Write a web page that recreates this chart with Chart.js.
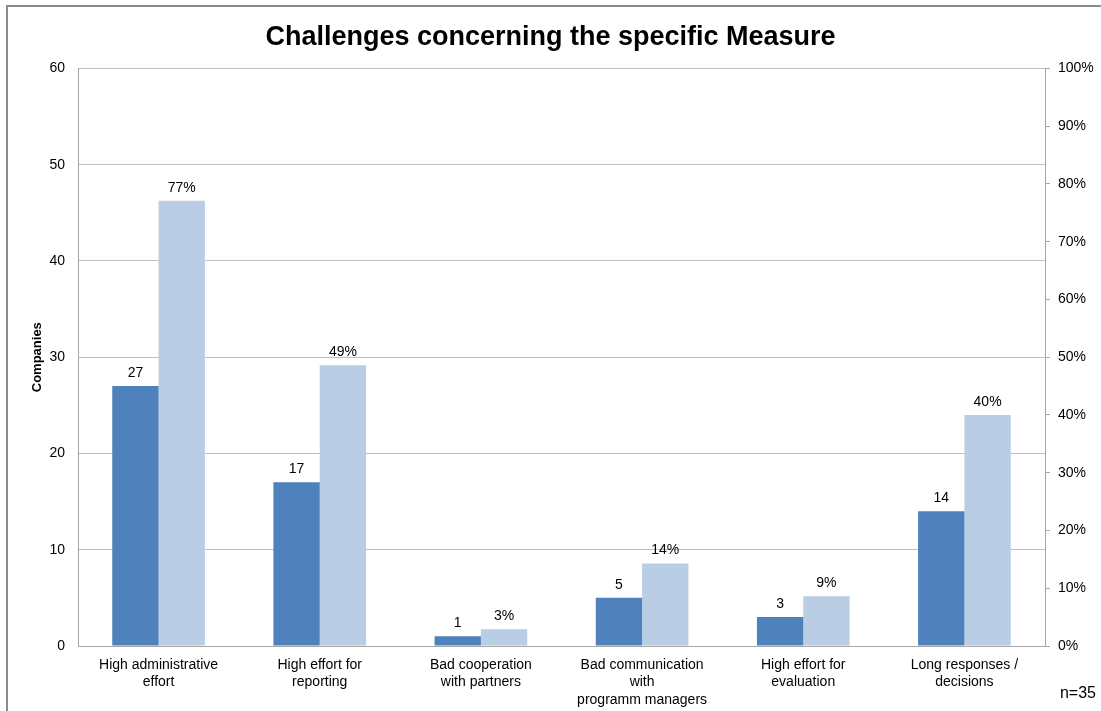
<!DOCTYPE html>
<html>
<head>
<meta charset="utf-8">
<script src="https://cdn.jsdelivr.net/npm/chart.js@4"></script>
<style>
  body { margin: 0; background: #fff; }
  #wrap { position: relative; width: 1101px; height: 711px; }
  #frame { position: absolute; left: 6px; top: 5px; width: 1200px; height: 800px; border-left: 2px solid #8c8c8c; border-top: 2px solid #8c8c8c; }
  canvas { position: absolute; left: 0; top: 0; }
</style>
</head>
<body>
<div id="wrap">
  <div id="frame"></div>
  <canvas id="chart" width="1101" height="711"></canvas>
</div>
<script>
// values
const categories = [
  ['High administrative', 'effort'],
  ['High effort for', 'reporting'],
  ['Bad cooperation', 'with partners'],
  ['Bad communication', 'with', 'programm managers'],
  ['High effort for', 'evaluation'],
  ['Long responses /', 'decisions']
];
const companies = [27, 17, 1, 5, 3, 14];
const percentages = [77.1, 48.6, 2.9, 14.3, 8.6, 40.0];
const leftTicks = [0, 10, 20, 30, 40, 50, 60];
const rightTicks = [0, 10, 20, 30, 40, 50, 60, 70, 80, 90, 100];

const FONT = 'Liberation Sans, Arial, sans-serif';

const barLabels = {
  id: 'barLabels',
  afterDatasetsDraw(chart) {
    const ctx = chart.ctx;
    ctx.save();
    ctx.font = '14px ' + FONT;
    ctx.fillStyle = '#000';
    ctx.textAlign = 'center';
    ctx.textBaseline = 'alphabetic';
    chart.data.datasets.forEach((ds, i) => {
      chart.getDatasetMeta(i).data.forEach((bar, j) => {
        const v = ds.data[j];
        const txt = i === 0 ? String(v) : Math.round(v) + '%';
        ctx.fillText(txt, bar.x, bar.y - 9);
      });
    });
    ctx.font = '16px ' + FONT;
    ctx.textAlign = 'right';
    ctx.fillText('n=35', 1096, 698);
    ctx.restore();
  }
};

new Chart(document.getElementById('chart').getContext('2d'), {
  type: 'bar',
  data: {
    labels: categories,
    datasets: [
      { label: 'Companies', data: companies, backgroundColor: '#4f81bd', yAxisID: 'y' },
      { label: 'Percent', data: percentages, backgroundColor: '#b9cde5', yAxisID: 'y1' }
    ]
  },
  options: {
    responsive: false,
    animation: false,
    barPercentage: 1,
    categoryPercentage: 0.575,
    layout: { padding: { left: 0, right: 0, top: 0, bottom: 0 } },
    plugins: {
      legend: { display: false },
      tooltip: { enabled: false },
      title: {
        display: true,
        text: 'Challenges concerning the specific Measure',
        color: '#000',
        font: { family: FONT, size: 27, weight: 'bold' },
        padding: { top: 21, bottom: 15 }
      }
    },
    scales: {
      x: {
        grid: { display: false, drawTicks: false },
        border: { color: '#a6a6a6', width: 1 },
        ticks: { color: '#000', font: { family: FONT, size: 14, lineHeight: 1.25 }, padding: 10, maxRotation: 0, autoSkip: false },
        afterFit(s) { s.height = 65; }
      },
      y: {
        position: 'left',
        min: 0, max: 60,
        afterBuildTicks(s) { s.ticks = leftTicks.map(v => ({ value: v })); },
        grid: { color: '#bfbfbf', drawTicks: false },
        border: { color: '#a6a6a6' },
        ticks: { color: '#000', font: { family: FONT, size: 14 }, padding: 13 },
        title: { display: true, text: 'Companies', color: '#000', font: { family: FONT, size: 13, weight: 'bold' }, padding: { top: 30, bottom: 0 } },
        afterFit(s) { s.width = 78; }
      },
      y1: {
        position: 'right',
        min: 0, max: 100,
        afterBuildTicks(s) { s.ticks = rightTicks.map(v => ({ value: v })); },
        grid: { drawOnChartArea: false, color: '#a6a6a6', tickLength: 5 },
        border: { color: '#a6a6a6' },
        ticks: { color: '#000', font: { family: FONT, size: 14 }, padding: 8, callback: v => v + '%' },
        afterFit(s) { s.width = 56; }
      }
    }
  },
  plugins: [barLabels]
});
</script>
</body>
</html>
